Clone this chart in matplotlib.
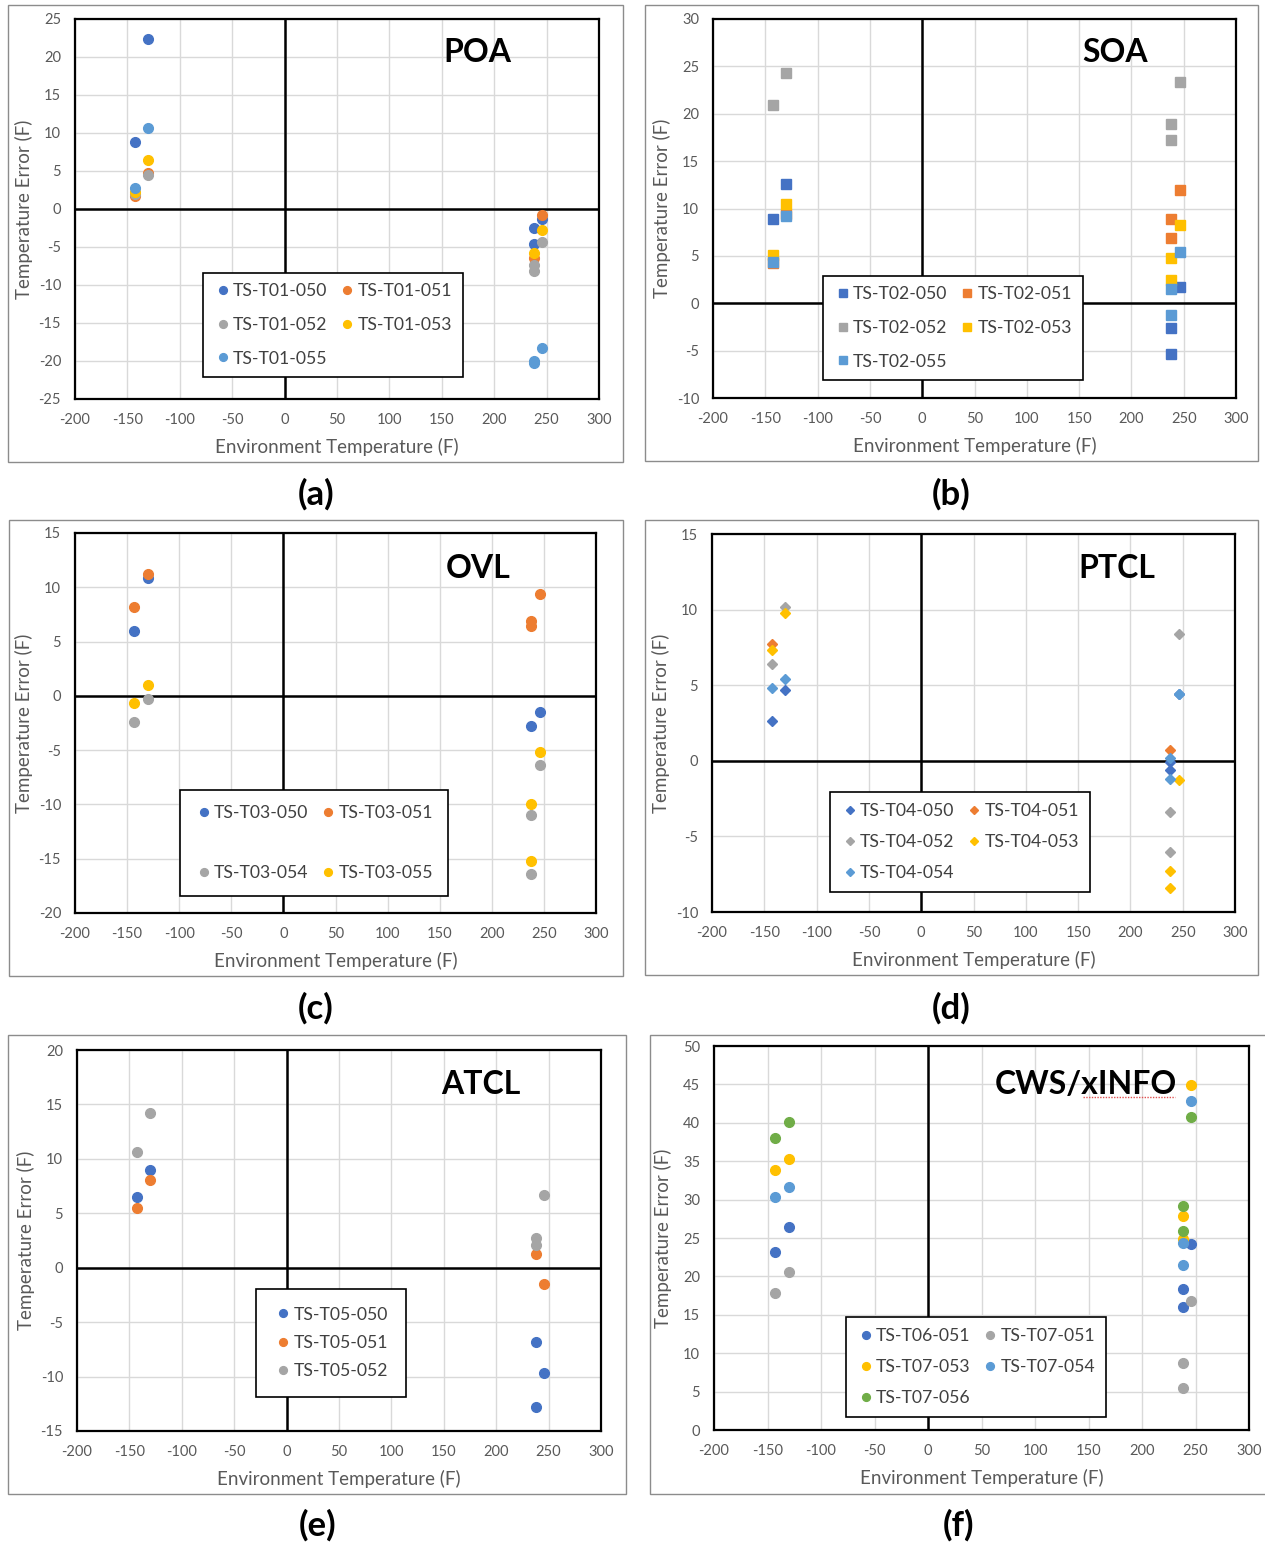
import matplotlib.pyplot as plt
from matplotlib.lines import Line2D
from matplotlib.patches import Rectangle

plt.rcParams['font.family'] = ['Lato', 'DejaVu Sans']
plt.rcParams['axes.unicode_minus'] = False

BLUE = '#4472C4'
ORANGE = '#ED7D31'
GREY = '#A5A5A5'
YELLOW = '#FFC000'
LBLUE = '#5B9BD5'
GREEN = '#70AD47'

x_ticks = [-200, -150, -100, -50, 0, 50, 100, 150, 200, 250, 300]

# (a) POA
poa_names = ['TS-T01-050', 'TS-T01-051', 'TS-T01-052', 'TS-T01-053', 'TS-T01-055']
poa_x = [[-143, -130, 238, 238, 246],
         [-143, -130, 238, 246],
         [-143, -130, 238, 238, 246],
         [-143, -130, 238, 246],
         [-143, -130, 238, 238, 246]]
poa_y = [[8.8, 22.4, -2.5, -4.6, -1.3],
         [1.7, 4.7, -6.4, -0.8],
         [2.0, 4.5, -7.4, -8.1, -4.3],
         [2.2, 6.4, -5.8, -2.8],
         [2.7, 10.7, -20.0, -20.2, -18.3]]

# (b) SOA
soa_names = ['TS-T02-050', 'TS-T02-051', 'TS-T02-052', 'TS-T02-053', 'TS-T02-055']
soa_x = [[-143, -130, 238, 238, 246]] * 5
soa_y = [[8.9, 12.6, -2.6, -5.4, 1.7],
         [4.2, 9.4, 8.9, 6.9, 11.9],
         [20.9, 24.3, 18.9, 17.2, 23.3],
         [5.1, 10.5, 4.8, 2.5, 8.3],
         [4.4, 9.2, 1.5, -1.2, 5.4]]

# (c) OVL
ovl_names = ['TS-T03-050', 'TS-T03-051', 'TS-T03-054', 'TS-T03-055']
ovl_x = [[-143, -130, 238, 246],
         [-143, -130, 238, 238, 246],
         [-143, -130, 238, 238, 246],
         [-143, -130, 238, 238, 246]]
ovl_y = [[6.0, 10.9, -2.8, -1.5],
         [8.2, 11.2, 6.9, 6.4, 9.4],
         [-2.4, -0.3, -11.0, -16.4, -6.4],
         [-0.7, 1.0, -10.0, -15.2, -5.2]]

# (d) PTCL
ptcl_names = ['TS-T04-050', 'TS-T04-051', 'TS-T04-052', 'TS-T04-053', 'TS-T04-054']
ptcl_x = [[-143, -130, 238, 238, 246],
          [-143, 238],
          [-143, -130, 238, 238, 246],
          [-143, -130, 238, 238, 246],
          [-143, -130, 238, 238, 246]]
ptcl_y = [[2.6, 4.7, -0.1, -0.6, 4.4],
          [7.7, 0.7],
          [6.4, 10.2, -3.4, -6.0, 8.4],
          [7.3, 9.8, -7.3, -8.4, -1.3],
          [4.8, 5.4, 0.2, -1.2, 4.4]]

# (e) ATCL
atcl_names = ['TS-T05-050', 'TS-T05-051', 'TS-T05-052']
atcl_x = [[-143, -130, 238, 238, 246],
          [-143, -130, 238, 246],
          [-143, -130, 238, 238, 246]]
atcl_y = [[6.5, 9.0, -6.8, -12.8, -9.7],
          [5.5, 8.1, 1.3, -1.5],
          [10.6, 14.2, 2.7, 2.1, 6.7]]

# (f) CWS/xINFO
cws_names = ['TS-T06-051', 'TS-T07-051', 'TS-T07-053', 'TS-T07-054', 'TS-T07-056']
cws_x = [[-143, -130, 238, 238, 246]] * 5
cws_y = [[23.2, 26.4, 18.3, 16.0, 24.2],
         [17.8, 20.6, 8.7, 5.5, 16.8],
         [33.8, 35.3, 27.8, 24.9, 44.9],
         [30.4, 31.7, 24.4, 21.5, 42.8],
         [38.0, 40.1, 29.2, 25.9, 40.8]]

W, H = 1265, 1544
fig = plt.figure(figsize=(W / 100, H / 100), dpi=100)


def fx(px):
    return px / W


def fy(py):
    return 1 - py / H


def panel(axbox, frame, names, xs, ys, colors, marker, ms, ylim, title, title_xy,
          leg_xy, ncol, order, lspace, tag, tag_xy, bpad=0.6):
    l, t, r, b = axbox
    ax = fig.add_axes([fx(l), fy(b), (r - l) / W, (b - t) / H])
    for name, x, y, c in zip(names, xs, ys, colors):
        ax.plot(x, y, ls='none', marker=marker, ms=ms, color=c, mec=c, label=name, zorder=4)
    ax.set_xlim(-200, 300)
    ax.set_ylim(*ylim)
    ax.set_xticks(x_ticks)
    ax.set_yticks(range(ylim[0], ylim[1] + 1, 5))
    ax.grid(color='#D9D9D9', lw=1)
    ax.set_axisbelow(True)
    ax.axhline(0, color='black', lw=1.8, zorder=3)
    ax.axvline(0, color='black', lw=1.8, zorder=3)
    for s in ax.spines.values():
        s.set_linewidth(1.6)
    ax.tick_params(length=0, labelsize=10.5, labelcolor='#595959', pad=10)

    h, lb = ax.get_legend_handles_labels()
    leg = ax.legend([h[i] for i in order], [lb[i] for i in order], ncol=ncol,
                    loc='center', bbox_to_anchor=(fx(leg_xy[0]), fy(leg_xy[1])),
                    bbox_transform=fig.transFigure, fontsize=12.7, frameon=True,
                    fancybox=False, edgecolor='black', framealpha=1,
                    labelspacing=lspace, handletextpad=0.1, columnspacing=0.6,
                    handlelength=1.0, borderpad=bpad, markerscale=0.8,
                    labelcolor='#404040')
    leg.get_frame().set_linewidth(1.2)
    leg.set_zorder(6)

    fig.text(fx(title_xy[0]), fy(title_xy[1]), title, fontsize=23, fontweight='bold',
             ha='center', va='center')
    fig.text(fx((l + r) / 2), fy(b + 48), 'Environment Temperature (F)', fontsize=13.5,
             color='#595959', ha='center', va='center')
    fig.text(fx(l - 51), fy((t + b) / 2), 'Temperature Error (F)', fontsize=13.5,
             color='#595959', ha='center', va='center', rotation=90)
    fig.text(fx(tag_xy[0]), fy(tag_xy[1]), tag, fontsize=25, fontweight='bold',
             ha='center', va='center')
    fl, ft, fr, fb = frame
    fig.add_artist(Rectangle((fx(fl), fy(fb)), (fr - fl) / W, (fb - ft) / H,
                             transform=fig.transFigure, fill=False,
                             edgecolor='#8C8C8C', lw=1))
    return ax


five = [BLUE, ORANGE, GREY, YELLOW, LBLUE]

panel((75, 19, 599, 399), (8, 5, 623, 462), poa_names, poa_x, poa_y, five, 'o', 7,
      (-25, 25), 'POA', (477, 53), (333, 325), 2, [0, 2, 4, 1, 3], 1.0, '(a)', (316, 494))

panel((713, 19, 1236, 398), (645, 5, 1258, 461), soa_names, soa_x, soa_y, five, 's', 6.5,
      (-10, 30), 'SOA', (1115, 53), (953, 328), 2, [0, 2, 4, 1, 3], 1.0, '(b)', (951, 494))

panel((75, 533, 596, 913), (9, 520, 623, 976), ovl_names, ovl_x, ovl_y,
      [BLUE, ORANGE, GREY, YELLOW], 'o', 7,
      (-20, 15), 'OVL', (478, 569), (314, 843), 2, [0, 2, 1, 3], 2.5, '(c)', (316, 1008), 0.85)

panel((712, 534, 1235, 912), (645, 520, 1258, 975), ptcl_names, ptcl_x, ptcl_y, five, 'D', 5.5,
      (-10, 15), 'PTCL', (1117, 569), (960, 842), 2, [0, 2, 4, 1, 3], 0.85, '(d)', (951, 1008))

panel((77, 1050, 601, 1431), (8, 1035, 626, 1494), atcl_names, atcl_x, atcl_y,
      [BLUE, ORANGE, GREY], 'o', 7,
      (-15, 20), 'ATCL', (481, 1084), (331, 1343), 1, [0, 1, 2], 0.7, '(e)', (318, 1525), 1.0)

panel((714, 1046, 1249, 1430), (650, 1035, 1266, 1494), cws_names, cws_x, cws_y,
      [BLUE, GREY, YELLOW, LBLUE, GREEN], 'o', 7,
      (0, 50), 'CWS/xINFO', (1086, 1084), (976, 1367), 2, [0, 2, 4, 1, 3], 0.85, '(f)', (958, 1525))

# spell-check underline under "xINFO"
fig.add_artist(Line2D([fx(1083), fx(1175)], [fy(1097), fy(1097)], transform=fig.transFigure,
                      color='#E05050', lw=1, ls=(0, (1, 1))))

fig.savefig('out.png', dpi=100, facecolor='white')
